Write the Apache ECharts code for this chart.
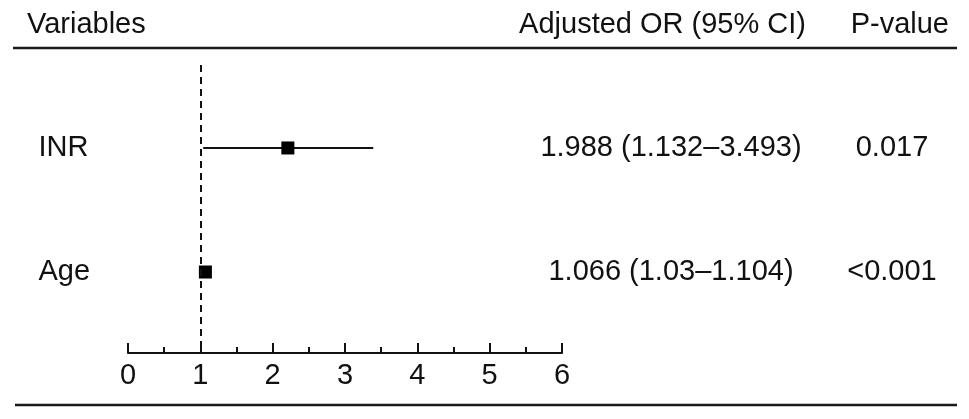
<!DOCTYPE html>
<html>
<head>
<meta charset="utf-8">
<script src="https://cdn.jsdelivr.net/npm/echarts@6/dist/echarts.min.js"></script>
<style>
html,body{margin:0;padding:0;background:#fff;}
#chart{width:969px;height:419px;}
</style>
</head>
<body>
<div id="chart"></div>
<script>
// ---- data ----
const variables = ['INR', 'Age'];
const rowIndex = [0, 1];
const orPoint = [2.21, 1.07];
const ciLower = [1.04, 1.03];
const ciUpper = [3.39, 1.10];
const orText = ['1.988 (1.132\u20133.493)', '1.066 (1.03\u20131.104)'];
const pText = ['0.017', '<0.001'];
const headers = ['Variables', 'Adjusted OR (95% CI)', 'P-value'];
const xTickMin = 0, xTickMax = 6, xTickStep = 1;
const refValue = 1;

// ---- layout ----
const FONT = '"Liberation Sans", Arial, Helvetica, sans-serif';
const FS = 29;
const TOP = 65, BOTTOM = 66;
const Y_MIN = -0.669, Y_MAX = 1.653;
const INK = '#111';

const chart = echarts.init(document.getElementById('chart'), null, {renderer: 'canvas'});

function hiddenX(gi) {
  return {type: 'value', gridIndex: gi, min: 0, max: 1, show: false};
}
function hiddenY(gi) {
  return {type: 'value', gridIndex: gi, min: Y_MIN, max: Y_MAX, inverse: true, show: false};
}

const textStyle = {fontFamily: FONT, fontSize: FS, color: INK, textBorderWidth: 0, opacity: 1};

function textSeries(gi, xVal, texts, pos) {
  return {
    type: 'scatter',
    xAxisIndex: gi, yAxisIndex: gi,
    symbolSize: 1,
    itemStyle: {opacity: 0},
    emphasis: {disabled: true},
    data: rowIndex.map((r, i) => ({value: [xVal, r], name: texts[i]})),
    label: Object.assign({
      show: true, position: pos, distance: 0,
      align: pos === 'right' ? 'left' : 'center', verticalAlign: 'middle',
      formatter: p => p.name
    }, textStyle)
  };
}

const option = {
  animation: false,
  backgroundColor: '#fff',
  grid: [
    {left: 128, right: 407, top: TOP, bottom: BOTTOM},          // plot
    {left: 38, width: 80, top: TOP, bottom: BOTTOM},            // variable names
    {left: 621, width: 100, top: TOP, bottom: BOTTOM},          // OR text (center 671)
    {left: 842, width: 100, top: TOP, bottom: BOTTOM}           // p text (center 892)
  ],
  xAxis: [
    {
      type: 'value', gridIndex: 0, min: xTickMin, max: xTickMax, interval: xTickStep,
      position: 'bottom',
      axisLine: {show: true, onZero: false, lineStyle: {color: INK, width: 2}},
      axisTick: {show: true, inside: true, length: 10, lineStyle: {color: INK, width: 2}},
      minorTick: {show: true, splitNumber: 2, length: 6, lineStyle: {color: INK, width: 2}},
      axisLabel: {show: true, margin: 8, fontFamily: FONT, fontSize: FS, color: INK},
      splitLine: {show: false}
    },
    hiddenX(1), hiddenX(2), hiddenX(3)
  ],
  yAxis: [hiddenY(0), hiddenY(1), hiddenY(2), hiddenY(3)],
  series: [
    {
      type: 'custom',
      xAxisIndex: 0, yAxisIndex: 0,
      data: rowIndex.map((r, i) => [ciLower[i], ciUpper[i], r]),
      renderItem: function (params, api) {
        const p1 = api.coord([api.value(0), api.value(2)]);
        const p2 = api.coord([api.value(1), api.value(2)]);
        return {
          type: 'line',
          shape: {x1: p1[0], y1: p1[1], x2: p2[0], y2: p2[1]},
          style: {stroke: INK, lineWidth: 2.2}
        };
      },
      markLine: {
        silent: true,
        symbol: 'none',
        label: {show: false},
        lineStyle: {type: [7, 5], color: INK, width: 2, opacity: 1},
        data: [{xAxis: refValue}]
      },
      z: 2
    },
    {
      type: 'scatter',
      xAxisIndex: 0, yAxisIndex: 0,
      symbol: 'rect',
      symbolSize: 13,
      itemStyle: {color: '#000', opacity: 1},
      emphasis: {disabled: true},
      data: rowIndex.map((r, i) => [orPoint[i], r]),
      z: 3
    },
    textSeries(1, 0, variables, 'right'),
    textSeries(2, 0.5, orText, 'inside'),
    textSeries(3, 0.5, pText, 'inside')
  ],
  graphic: [
    {type: 'text', left: 27, top: 10, style: {text: headers[0], font: FS + 'px ' + FONT, fill: INK}},
    {type: 'text', right: 969 - 806, top: 10, style: {text: headers[1], font: FS + 'px ' + FONT, fill: INK}},
    {type: 'text', right: 969 - 949, top: 10, style: {text: headers[2], font: FS + 'px ' + FONT, fill: INK}},
    {type: 'line', shape: {x1: 13, y1: 48, x2: 957, y2: 48}, style: {stroke: '#1a1a1a', lineWidth: 2.5}},
    {type: 'line', shape: {x1: 15, y1: 405, x2: 957, y2: 405}, style: {stroke: '#1a1a1a', lineWidth: 2.5}}
  ]
};

chart.setOption(option);
</script>
</body>
</html>
